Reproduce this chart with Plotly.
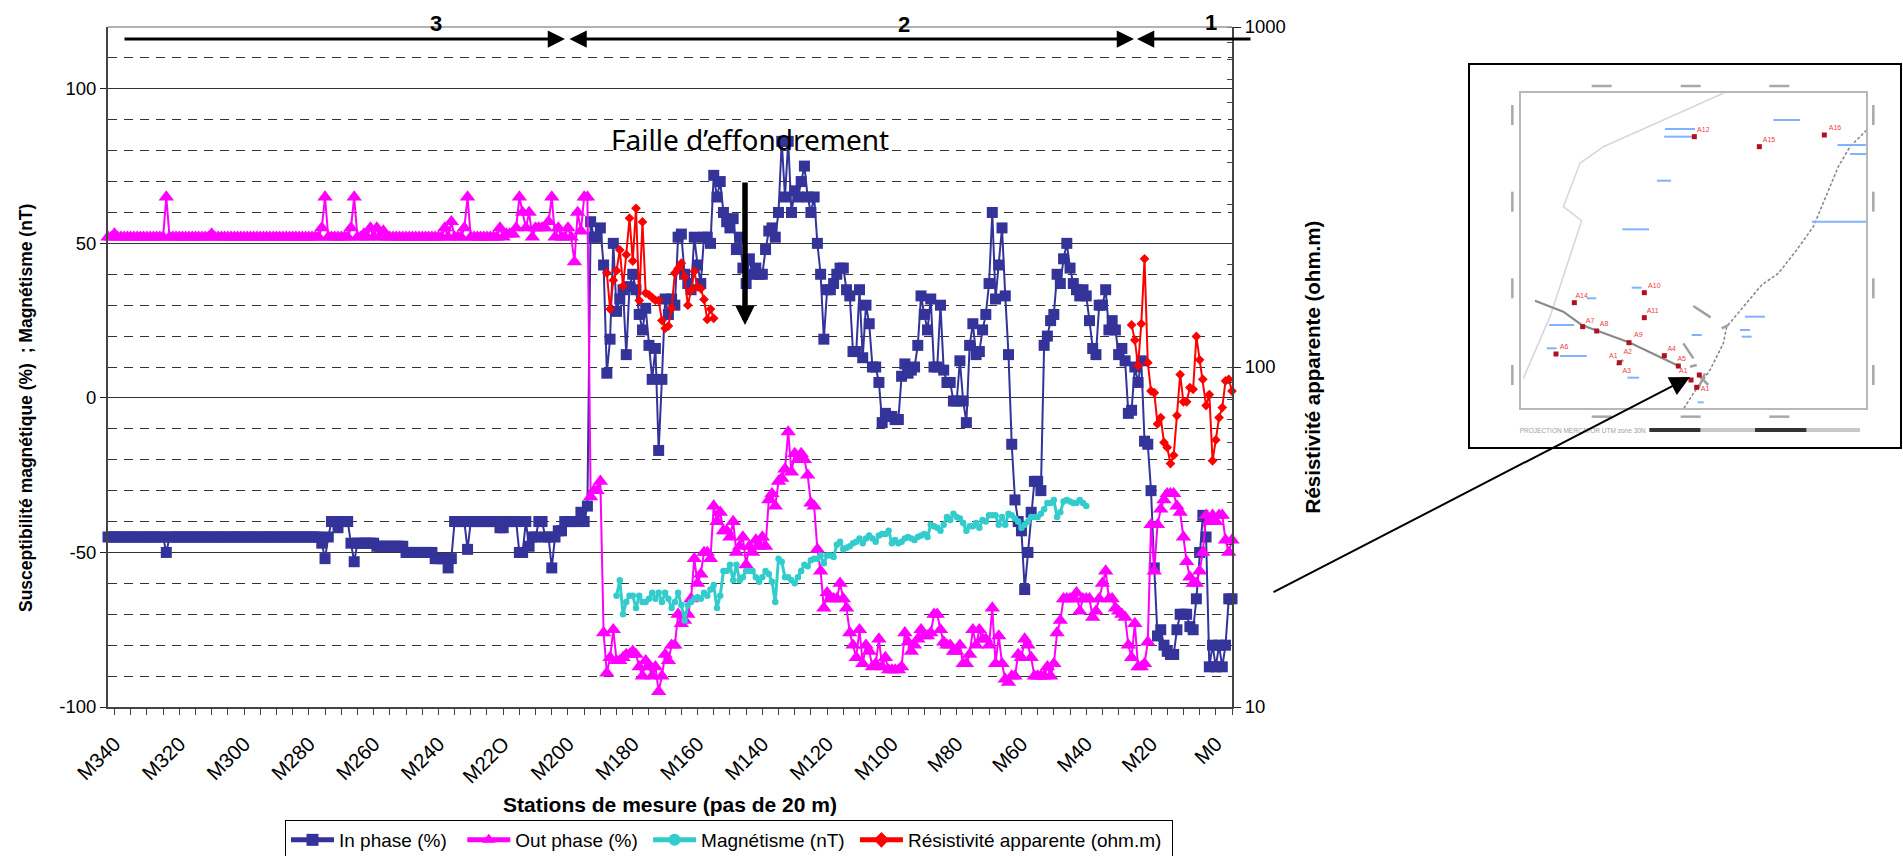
import plotly.graph_objects as go

W, H = 1903, 856
PLOT_L, PLOT_R, PLOT_T, PLOT_B = 108, 1232, 27, 707

stations = list(range(347, -1, -1))
label_stations = list(range(340, -1, -20))
label_text = ["M340", "M320", "M300", "M280", "M260", "M240", "M22O", "M200", "M180",
              "M160", "M140", "M120", "M100", "M80", "M60", "M40", "M20", "M0"]
left_ticks = [-100, -50, 0, 50, 100]
left_tick_text = ["-100", "-50", "0", "50", "100"]

in_phase = [
    -45,
    -45, -45, -45, -45, -45, -45, -45, -45, -45, -45,
    -45, -45, -45, -45, -45, -45, -45, -50, -45, -45,
    -45, -45, -45, -45, -45, -45, -45, -45, -45, -45,
    -45, -45, -45, -45, -45, -45, -45, -45, -45, -45,
    -45, -45, -45, -45, -45, -45, -45, -45, -45, -45,
    -45, -45, -45, -45, -45, -45, -45, -45, -45, -45,
    -45, -45, -45, -45, -45, -47, -52, -45, -40, -40,
    -42, -40, -40, -40, -47, -53, -47, -47, -47, -47,
    -47, -47, -48, -48, -48, -48, -48, -48, -48, -48,
    -48, -50, -50, -50, -50, -50, -50, -50, -50, -50,
    -52, -52, -52, -52, -55, -52, -40, -40, -40, -40,
    -49, -40, -40, -40, -40, -40, -40, -40, -40, -40,
    -42, -42, -40, -40, -40, -40, -50, -50, -40, -48,
    -45, -45, -40, -40, -45, -45, -55, -45, -43, -43,
    -40, -40, -40, -40, -40, -37, -40, -35, 57, 52,
    52, 55, 43, 8, 19, 50, 28, 32, 35, 14,
    36, 40, 35, 27, 22, 29, 17, 6, 16, -17,
    6, 32, 27, 32, 30, 52, 53, 40, 37, 35,
    52, 43, 37, 52, 52, 50, 72, 65, 70, 60,
    57, 55, 58, 48, 52, 42, 37, 45, 40, 42,
    40, 40, 48, 54, 55, 52, 60, 83, 65, 83,
    60, 67, 65, 70, 75, 65, 60, 65, 50, 40,
    19, 35, 35, 37, 40, 42, 42, 35, 33, 15,
    15, 35, 13, 30, 24, 10, 10, 5, -8, -5,
    -6, -6, -7, -7, 7, 11, 8, 9, 10, 17,
    33, 27, 22, 32, 10, 10, 30, 9, 5, 5,
    -1, -1, 12, -1, -8, 17, 24, 14, 15, 22,
    27, 37, 60, 32, 43, 55, 33, 14, -15, -33,
    -40, -43, -62, -50, -37, -27, -27, -30, 17, 20,
    25, 27, 40, 37, 45, 50, 42, 37, 35, 33,
    35, 33, 25, 16, 14, 30, 30, 35, 22, 25,
    22, 14, 16, 12, -5, -4, 10, 5, 12, -14,
    -15, -30, -55, -77, -75, -80, -82, -83, -83, -75,
    -70, -70, -70, -74, -75, -65, -50, -38, -45, -87,
    -80, -87, -80, -87, -80, -65, -65,
]

out_phase = [
    52,
    52, 53, 52, 52, 52, 52, 52, 52, 52, 52,
    52, 52, 52, 52, 52, 52, 52, 65, 52, 52,
    52, 52, 52, 52, 52, 52, 52, 52, 52, 52,
    52, 53, 52, 52, 52, 52, 52, 52, 52, 52,
    52, 52, 52, 52, 52, 52, 52, 52, 52, 52,
    52, 52, 52, 52, 52, 52, 52, 52, 52, 52,
    52, 52, 52, 52, 52, 55, 65, 52, 52, 52,
    52, 52, 52, 52, 55, 65, 52, 52, 53, 52,
    55, 52, 55, 52, 54, 52, 52, 52, 52, 52,
    52, 52, 52, 52, 52, 52, 52, 52, 52, 52,
    52, 52, 52, 55, 52, 57, 52, 52, 52, 55,
    65, 52, 52, 52, 52, 52, 52, 52, 52, 52,
    55, 52, 53, 53, 53, 55, 65, 60, 55, 60,
    52, 55, 55, 55, 55, 57, 65, 52, 55, 52,
    52, 55, 52, 44, 60, 54, 65, 65, -32, -30,
    -30, -27, -76, -89, -84, -75, -85, -85, -84, -83,
    -83, -82, -83, -87, -90, -85, -87, -90, -87, -95,
    -90, -83, -85, -80, -80, -70, -73, -72, -70, -65,
    -52, -60, -57, -50, -50, -52, -35, -40, -37, -43,
    -43, -45, -40, -50, -48, -45, -54, -48, -50, -46,
    -48, -45, -48, -33, -31, -35, -27, -26, -23, -11,
    -24, -18, -20, -18, -20, -25, -34, -35, -49, -56,
    -68, -63, -65, -65, -65, -60, -65, -68, -76, -80,
    -84, -75, -86, -80, -82, -87, -86, -78, -87, -84,
    -88, -88, -88, -88, -87, -76, -79, -82, -80, -78,
    -75, -77, -77, -76, -70, -70, -75, -79, -80, -80,
    -82, -82, -80, -86, -86, -83, -75, -80, -75, -78,
    -78, -80, -68, -86, -77, -86, -91, -92, -90, -90,
    -83, -84, -78, -80, -84, -90, -90, -90, -90, -87,
    -90, -86, -76, -72, -65, -65, -65, -65, -63, -69,
    -65, -65, -65, -71, -69, -65, -60, -56, -65, -65,
    -68, -69, -70, -71, -80, -84, -73, -87, -87, -86,
    -79, -41, -56, -41, -36, -33, -31, -31, -31, -35,
    -37, -45, -53, -58, -60, -60, -56, -50, -38, -40,
    -38, -40, -38, -38, -46, -50, -46,
]

mag_stations = list(range(190, 44, -1))
magnetisme = [
    -64, -59, -70, -66, -64, -64, -68, -64, -66, -66,
    -65, -63, -65, -63, -66, -63, -65, -68, -66, -63,
    -67, -72, -67, -66, -65, -64.5, -65, -63, -64, -62,
    -60.5, -68, -64, -56, -56, -54, -59, -54, -59, -58,
    -56, -56, -56, -58, -59.5, -58, -56, -57, -59.5, -66,
    -52, -53, -58, -58, -59, -60, -58, -56, -54, -54.5,
    -52.5, -52, -52, -51, -53.5, -51, -51, -51.5, -47.5, -46.5,
    -49, -48.5, -48, -47, -46.5, -45.5, -47, -45.5, -44.5, -45.5,
    -46.5, -44.5, -44, -44, -43, -47, -46, -47, -46.5, -45.5,
    -45, -45.5, -46, -45, -44.5, -44, -45, -41, -41.5, -42,
    -43, -41, -38.5, -39.5, -37.5, -38.5, -39, -40.5, -43, -41.5,
    -41.5, -40.5, -42, -39.5, -40, -38, -38, -38, -41, -38.5,
    -41, -37.5, -38, -39, -40, -42, -41, -40, -38.5, -38.5,
    -38.5, -37.5, -36, -34, -34, -33, -38.5, -37, -33.5, -33,
    -33.5, -34, -34, -33, -34, -35,
]

res_stations_a = list(range(193, 159, -1))
resistivity_a = [189, 148, 180, 192, 221, 173, 214, 274, 205, 293, 157, 267, 165, 163, 160, 157, 157,
                 137, 130, 132, 149, 189, 195, 202, 184, 152, 168, 191, 172, 170, 158, 138, 148, 139]
res_stations_b = list(range(31, -1, -1))
resistivity_b = [133, 120, 101, 134, 208, 103, 85, 84, 68, 71, 60, 58, 52, 55, 72, 95,
                 79, 79, 87, 86, 123, 105, 92, 77, 83, 53, 61, 71, 76, 91, 92, 85]

assert len(in_phase) == len(stations) and len(out_phase) == len(stations)
assert len(magnetisme) == len(mag_stations)
assert len(resistivity_a) == len(res_stations_a) and len(resistivity_b) == len(res_stations_b)

# Inset map, in crop coordinates (crop = 3x zoom of the page from 1460,50)
map_border = [(790, 130), (600, 215), (430, 290), (360, 340), (310, 470), (365, 512), (270, 800), (190, 985)]
map_road = [(1220, 240), (1170, 290), (1135, 350), (1090, 460), (1060, 530), (1010, 600), (955, 670),
            (905, 705), (850, 770), (800, 830), (790, 880), (750, 960), (700, 1030), (670, 1078)]
map_profile = [(225, 752), (310, 785), (365, 825), (510, 878), (650, 945)]
map_dark = [[(700, 768), (752, 802)], [(785, 835), (805, 825)], [(670, 880), (700, 925)], [(690, 950), (710, 945)],
            [(715, 975), (745, 1005)], [(735, 970), (715, 1015)], [(470, 945), (490, 930)]]
map_sites = [(343, 758), (368, 830), (410, 843), (507, 878), (553, 803), (553, 728), (613, 917), (288, 912),
             (478, 938), (655, 948), (693, 990), (710, 1012), (718, 975), (703, 260), (898, 290), (1093, 255)]
map_site_labels = [(365, 738, "A14"), (390, 815, "A7"), (432, 823, "A8"), (535, 857, "A9"), (578, 785, "A11"),
                   (583, 708, "A10"), (635, 897, "A4"), (312, 893, "A6"), (460, 918, "A1"), (503, 908, "A2"),
                   (500, 963, "A3"), (665, 928, "A5"), (670, 965, "A1"), (735, 1018, "A1"), (730, 240, "A12"),
                   (927, 270, "A15"), (1125, 236, "A16")]
map_places = [(660, 237, 90), (655, 260, 85), (980, 210, 80), (1175, 285, 85), (1195, 312, 50), (612, 392, 42),
              (527, 538, 80), (1138, 515, 165), (885, 800, 60), (305, 825, 75), (340, 918, 80), (395, 745, 28),
              (530, 713, 30), (275, 895, 30), (710, 855, 30), (855, 840, 30), (860, 860, 30), (520, 983, 35),
              (722, 1057, 18)]
map_ticks_x = [425, 692, 958]
map_ticks_y = [195, 455, 715, 975]


def mx(v):
    return 1460 + v / 3


def my(v):
    return 50 + v / 3


def poly(points):
    return [mx(p[0]) for p in points], [my(p[1]) for p in points]


fig = go.Figure()

BLUE, MAGENTA, TEAL, RED = "#333399", "#FF00FF", "#33CCCC", "#FF0000"
fig.add_trace(go.Scatter(x=stations, y=in_phase, name="In phase (%)\u00a0\u00a0", mode="lines+markers", cliponaxis=False,
                         line=dict(color=BLUE, width=2), marker=dict(symbol="square", size=11, color=BLUE)))
fig.add_trace(go.Scatter(x=stations, y=out_phase, name="Out phase (%)\u00a0", mode="lines+markers", cliponaxis=False,
                         line=dict(color=MAGENTA, width=2), marker=dict(symbol="triangle-up", size=13.5, color=MAGENTA)))
fig.add_trace(go.Scatter(x=mag_stations, y=magnetisme, name="Magnétisme (nT)\u00a0", mode="lines+markers", cliponaxis=False,
                         line=dict(color=TEAL, width=3), marker=dict(symbol="circle", size=6.5, color=TEAL)))
fig.add_trace(go.Scatter(x=res_stations_a + [None] + res_stations_b,
                         y=resistivity_a + [None] + resistivity_b,
                         name="Résistivité apparente (ohm.m)\u00a0", mode="lines+markers", yaxis="y2", cliponaxis=False,
                         line=dict(color=RED, width=2), marker=dict(symbol="diamond", size=7.5, color=RED)))

# ---- inset map on a page-wide overlay axis
page = dict(xaxis="x3", yaxis="y3", showlegend=False, hoverinfo="skip")
bx, by = poly(map_border)
fig.add_trace(go.Scatter(x=bx, y=by, mode="lines", line=dict(color="#d8d8d8", width=1.6), **page))
rx, ry = poly(map_road)
fig.add_trace(go.Scatter(x=rx, y=ry, mode="lines", line=dict(color="#8a8a8a", width=1.6, dash="3px,2px"), **page))
px_, py_ = poly(map_profile)
fig.add_trace(go.Scatter(x=px_, y=py_, mode="lines", line=dict(color="#8a8a8a", width=2.2), **page))

dx, dy = [], []
for seg in map_dark:
    sx_, sy_ = poly(seg)
    dx += sx_ + [None]
    dy += sy_ + [None]
fig.add_trace(go.Scatter(x=dx, y=dy, mode="lines", line=dict(color="#a0a0a0", width=2.5), **page))

sx, sy = [], []
for zx, zy, w in map_places:
    sx += [mx(zx - w / 2), mx(zx + w / 2), None]
    sy += [my(zy), my(zy), None]
fig.add_trace(go.Scatter(x=sx, y=sy, mode="lines", line=dict(color="#7fb2ff", width=2), **page))

gx, gy = [], []
for zx in map_ticks_x:
    for zy in (108, 1100):
        gx += [mx(zx - 30), mx(zx + 30), None]
        gy += [my(zy), my(zy), None]
for zy in map_ticks_y:
    for zx in (157, 1240):
        gx += [mx(zx), mx(zx), None]
        gy += [my(zy - 30), my(zy + 30), None]
fig.add_trace(go.Scatter(x=gx, y=gy, mode="lines", line=dict(color="#a8a8a8", width=2.5), **page))

cx, cy = poly(map_sites)
fig.add_trace(go.Scatter(x=cx, y=cy, mode="markers", marker=dict(symbol="square", size=5, color="#b01020"), **page))
fig.add_trace(go.Scatter(x=[mx(p[0]) for p in map_site_labels], y=[my(p[1]) for p in map_site_labels],
                         text=[p[2] for p in map_site_labels], mode="text",
                         textfont=dict(family="Liberation Sans", size=7, color="#f04040"), **page))
fig.add_trace(go.Scatter(x=[mx(368)], y=[my(1145)], text=["PROJECTION MERCATOR UTM zone 30N"], mode="text",
                         textfont=dict(family="Liberation Sans", size=6.5, color="#a0a0a0"), **page))

shapes = [
    dict(type="line", xref="x3", yref="y3", x0=PLOT_L, x1=PLOT_R, y0=PLOT_T, y1=PLOT_T, line=dict(color="#999", width=1.5)),
    dict(type="rect", xref="x3", yref="y3", x0=1469, x1=1901, y0=64, y1=448, line=dict(color="#000", width=2)),
    dict(type="rect", xref="x3", yref="y3", x0=1520, x1=1867, y0=92, y1=409, line=dict(color="#b8b8b8", width=2)),
    dict(type="line", xref="x3", yref="y3", x0=mx(568), x1=mx(722), y0=my(1140), y1=my(1140), line=dict(color="#333", width=4)),
    dict(type="line", xref="x3", yref="y3", x0=mx(722), x1=mx(885), y0=my(1140), y1=my(1140), line=dict(color="#c8c8c8", width=4)),
    dict(type="line", xref="x3", yref="y3", x0=mx(885), x1=mx(1040), y0=my(1140), y1=my(1140), line=dict(color="#333", width=4)),
    dict(type="line", xref="x3", yref="y3", x0=mx(1040), x1=mx(1200), y0=my(1140), y1=my(1140), line=dict(color="#c8c8c8", width=4)),
]


def note(text, x, y, size=22, bold=True, family="Liberation Sans"):
    return dict(text=f"<b>{text}</b>" if bold else text, x=x, y=y, xref="x3", yref="y3", showarrow=False,
                font=dict(family=family, size=size, color="#000"), xanchor="center", yanchor="middle")


def arrow(x, y, ax, ay, width=3, size=1.15, side="end"):
    return dict(x=x, y=y, ax=ax, ay=ay, xref="x3", yref="y3", axref="x3", ayref="y3", text="", showarrow=True,
                arrowhead=2, startarrowhead=2, arrowside=side, arrowsize=size, startarrowsize=size,
                arrowwidth=width, arrowcolor="#000", standoff=0, startstandoff=0)


annotations = [
    note("3", 436, 23), note("2", 904, 24), note("1", 1211, 22),
    arrow(565, 39, 123, 39),
    arrow(1134, 39, 568, 39, side="end+start"),
    arrow(1137, 39, 1252, 39),
    note("Faille d’effondrement", 750, 139, size=28, bold=False, family="Noto Sans"),
    arrow(745, 325, 745, 181, width=5.5, size=0.7),
    arrow(1690, 377, 1272, 593, width=2, size=2),
    dict(text="<b>Susceptibilité magnétique (%)  ; Magnétisme (nT)</b>", x=26, y=408, xref="x3", yref="y3",
         showarrow=False, textangle=-90, font=dict(family="Liberation Sans", size=17.5, color="#000"),
         xanchor="center", yanchor="middle"),
]

axis_font = dict(family="Liberation Sans", size=18.5, color="#000")
fig.update_layout(
    template=None,
    width=W, height=H,
    margin=dict(l=0, r=0, t=0, b=0, autoexpand=False),
    paper_bgcolor="white", plot_bgcolor="rgba(0,0,0,0)",
    showlegend=True,
    legend=dict(orientation="h", x=285 / W, y=1 - 820 / H, xanchor="left", yanchor="top",
                bgcolor="white", bordercolor="#000", borderwidth=1,
                font=dict(family="Liberation Sans", size=19, color="#000"),
                itemsizing="constant", itemwidth=43, traceorder="normal", tracegroupgap=0),
    xaxis=dict(
        domain=[PLOT_L / W, PLOT_R / W], range=[347, 0], anchor="y", automargin=False,
        tickmode="array", tickvals=label_stations, ticktext=label_text, tickangle=-45,
        tickfont=dict(family="Liberation Sans", size=20.5, color="#000"), ticklabelshift=16, ticklabelstandoff=9,
        ticks="outside", ticklen=6, tickcolor="#444", tickwidth=1,
        minor=dict(tick0=0, dtick=5, ticks="outside", ticklen=6, tickcolor="#444", tickwidth=1, showgrid=False),
        showgrid=False, zeroline=False, showline=True, linecolor="#444", linewidth=1.5,
        title=dict(text="<b>Stations de mesure (pas de 20 m)</b>", standoff=11,
                   font=dict(family="Liberation Sans", size=21, color="#000")),
    ),
    yaxis=dict(
        domain=[1 - PLOT_B / H, 1 - PLOT_T / H], range=[-100, 120], anchor="x", automargin=False,
        tickmode="array", tickvals=left_ticks, ticktext=left_tick_text, tickfont=axis_font,
        ticks="outside", ticklen=6, tickcolor="#222", tickwidth=1,
        showgrid=True, gridcolor="#333", gridwidth=1, zeroline=False,
        showline=True, linecolor="#444", linewidth=2,
        minor=dict(tick0=0, dtick=10, showgrid=True, gridcolor="#333", griddash="9px,7px", gridwidth=1, ticks=""),
    ),
    yaxis2=dict(
        domain=[1 - PLOT_B / H, 1 - PLOT_T / H], type="log", range=[1, 3], overlaying="y", side="right", anchor="x",
        automargin=False, tickmode="array", tickvals=[10, 100, 1000], ticktext=["10", "100", "1000"], tickfont=axis_font,
        ticks="outside", ticklen=7, tickcolor="#222", tickwidth=1,
        showgrid=False, zeroline=False, showline=True, linecolor="#444", linewidth=2,
        minor=dict(dtick="D1", ticks="inside", ticklen=5, tickcolor="#444", tickwidth=1, showgrid=False),
        title=dict(text="<b>Résistivité apparente (ohm.m)</b>", standoff=21,
                   font=dict(family="Liberation Sans", size=20.5, color="#000")),
    ),
    xaxis3=dict(domain=[0, 1], range=[0, W], anchor="y3", visible=False, fixedrange=True),
    yaxis3=dict(domain=[0, 1], range=[H, 0], anchor="x3", visible=False, fixedrange=True),
    shapes=shapes,
    annotations=annotations,
)

fig.write_html("out.html", config=dict(displayModeBar=False),
               post_script="document.body.style.margin='0';document.body.style.overflow='hidden';")
